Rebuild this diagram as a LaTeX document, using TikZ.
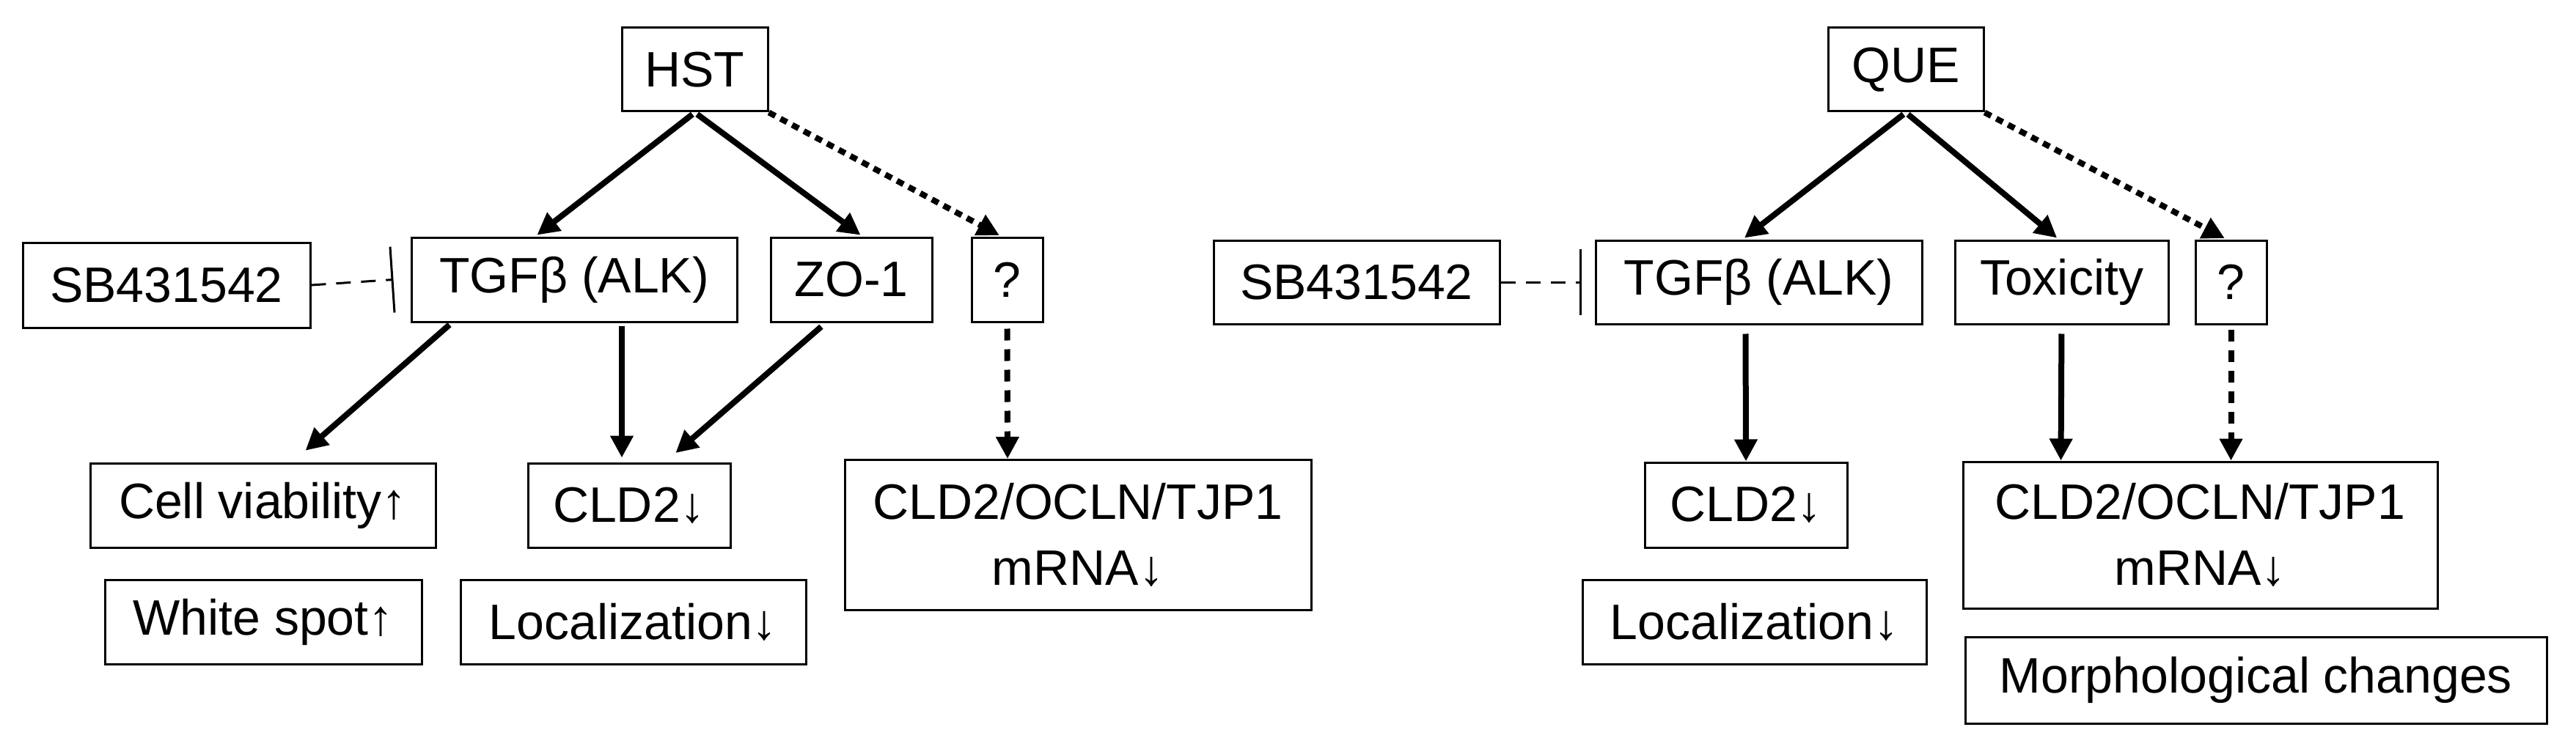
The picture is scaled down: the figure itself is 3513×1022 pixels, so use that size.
\documentclass[tikz,border=0pt]{standalone}
\usepackage{fontspec}
\setmainfont{Liberation Sans}
\usetikzlibrary{arrows.meta,calc}
\begin{document}
\begin{tikzpicture}[x=0.5pt,y=-0.5pt,
  box/.style={draw,line width=1.5pt,inner sep=0pt,align=center,font=\fontsize{34}{45}\selectfont},
  arr/.style={line width=4pt,-{Triangle[length=15pt,width=15pt]}},
  dot/.style={arr,dash pattern=on 5pt off 4pt},
  dsh/.style={arr,dash pattern=on 8pt off 6pt},
  inh/.style={line width=1.5pt,dash pattern=on 10pt off 7pt,-{Bar[width=45pt,line width=1.5pt]}}]
\useasboundingbox (0,0) rectangle (3513,1022);
\newcommand{\bx}[6]{\node[box,minimum width=#4*0.5pt,minimum height=#5*0.5pt] (#1) at (#2,#3) {#6};}
% left
\bx{hst}{947.5}{95}{199}{114}{HST}
\bx{sbl}{227}{389}{392}{116}{SB431542}
\bx{tgfl}{783}{381.5}{444}{115}{TGFβ (ALK)}
\bx{zo}{1161}{381.5}{220}{115}{ZO-1}
\bx{ql}{1373.5}{381.5}{97}{115}{?}
\bx{cell}{358.5}{689.5}{471}{115}{Cell viability↑}
\bx{cldl}{858}{689.5}{276}{115}{CLD2↓}
\bx{mrl}{1470}{730}{636}{205}{CLD2/OCLN/TJP1\\mRNA↓}
\bx{white}{359}{848.5}{432}{115}{White spot↑}
\bx{locl}{863.5}{848.5}{471}{115}{Localization↓}
% right
\bx{que}{2599}{95}{212}{114}{QUE}
\bx{sbr}{1850}{385}{390}{114}{SB431542}
\bx{tgfr}{2398.5}{385}{445}{114}{TGFβ (ALK)}
\bx{tox}{2811.5}{385}{291}{114}{Toxicity}
\bx{qr}{3042.5}{385}{97}{114}{?}
\bx{cldr}{2381}{689}{276}{116}{CLD2↓}
\bx{locr}{2392.5}{848.5}{469}{115}{Localization↓}
\bx{mrr}{3000.5}{730}{647}{200}{CLD2/OCLN/TJP1\\mRNA↓}
\bx{mor}{3076.5}{928}{793}{118}{Morphological changes}
% left arrows
\draw[arr,shorten <=2pt,shorten >=1.5pt] (hst.south) -- ([xshift=-26.5pt]tgfl.north);
\draw[arr,shorten <=2pt,shorten >=1.5pt] (hst.south) -- ([xshift=7.5pt]zo.north);
\draw[dot,shorten >=1.5pt] (hst.south east) -- ([xshift=-4pt]ql.north);
\draw[inh] (sbl.east) -- ([xshift=-11.5pt]tgfl.west);
\draw[arr,shorten <=2pt,shorten >=12pt] ([xshift=-83.5pt]tgfl.south) -- ([xshift=20pt]cell.north);
\draw[arr,shorten <=2pt,shorten >=3pt] ([xshift=32.5pt]tgfl.south) -- ([xshift=-5pt]cldl.north);
\draw[arr,shorten <=4pt,shorten >=9.5pt] ([xshift=-17.5pt]zo.south) -- ([xshift=24.5pt]cldl.north);
\draw[dsh,shorten <=4pt] (ql.south) -- ([xshift=-48pt]mrl.north);
% right arrows
\draw[arr,shorten <=2pt,shorten >=1.5pt] (que.south) -- ([xshift=-11pt]tgfr.north);
\draw[arr,shorten <=2pt,shorten >=1.5pt] (que.south) -- ([xshift=-2pt]tox.north);
\draw[dot,shorten >=1.5pt] (que.south east) -- ([xshift=-3pt]qr.north);
\draw[inh] (sbr.east) -- ([xshift=-9pt]tgfr.west);
\draw[arr,shorten <=6pt] ([xshift=-9pt]tgfr.south) -- (cldr.north);
\draw[arr,shorten <=6pt] (tox.south) -- ([xshift=-95pt]mrr.north);
\draw[dsh,shorten <=3pt] (qr.south) -- ([xshift=21pt]mrr.north);
\end{tikzpicture}
\end{document}
